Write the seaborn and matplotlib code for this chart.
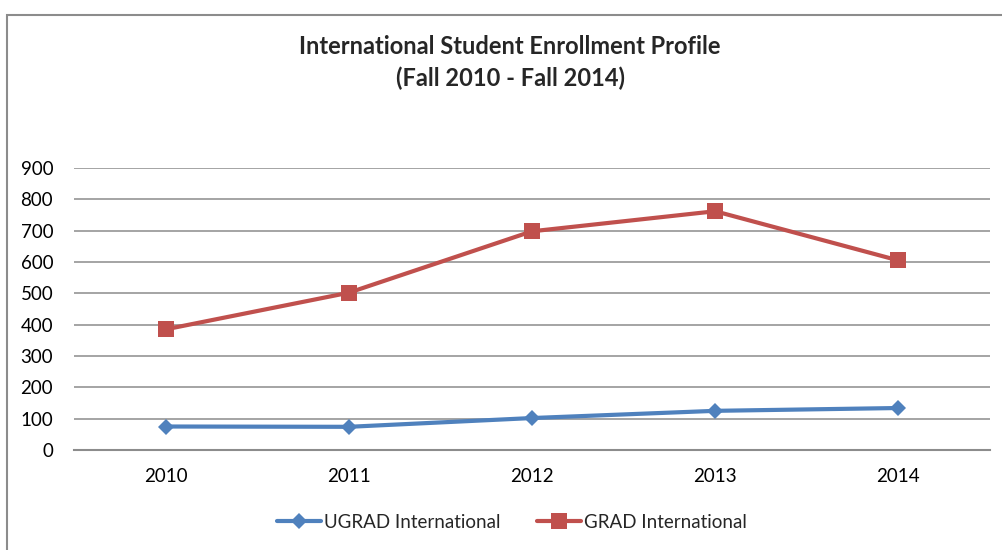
import matplotlib
matplotlib.use("Agg")
import matplotlib.pyplot as plt
import seaborn as sns
import pandas as pd
from matplotlib.patches import Rectangle

years = [2010, 2011, 2012, 2013, 2014]
ugrad = [75, 74, 102, 125, 134]
grad = [385, 502, 698, 762, 605]
series_names = ["UGRAD International", "GRAD International"]
yticks = [0, 100, 200, 300, 400, 500, 600, 700, 800, 900]

df = pd.DataFrame({
    "year": years * 2,
    "value": ugrad + grad,
    "series": [series_names[0]] * len(years) + [series_names[1]] * len(years),
})

sns.set_theme(style="white")
plt.rcParams["font.family"] = ["Lato", "DejaVu Sans"]

W, H = 1002, 550
fig = plt.figure(figsize=(W / 100, H / 100), dpi=100)
ax = fig.add_axes([74 / W, 1 - 450 / H, (990 - 74) / W, (450 - 168) / H])

palette = {series_names[0]: "#4F81BD", series_names[1]: "#C0504D"}
markers = {series_names[0]: "D", series_names[1]: "s"}
sizes = {series_names[0]: 8.5, series_names[1]: 11.5}
sns.lineplot(data=df, x="year", y="value", hue="series", style="series",
             markers=markers, dashes=False, palette=palette, ax=ax,
             linewidth=3, markeredgewidth=0, legend=False)
for line, name in zip(ax.get_lines(), series_names):
    line.set_markersize(sizes[name])

ax.set_xlim(years[0] - 0.5, years[-1] + 0.5)
ax.set_ylim(yticks[0], yticks[-1])
ax.set_xticks(years)
ax.set_xticklabels([str(y) for y in years])
ax.set_yticks(yticks)
ax.yaxis.grid(True, color="#8c8c8c", linewidth=1.1)
ax.set_axisbelow(True)
for s in ["top", "right", "left"]:
    ax.spines[s].set_visible(False)
ax.spines["bottom"].set_color("#8c8c8c")
ax.spines["bottom"].set_linewidth(1.5)
ax.tick_params(axis="both", length=0, labelsize=13.5, colors="black")
ax.tick_params(axis="x", pad=13)
ax.tick_params(axis="y", pad=15)
ax.set_xlabel("")
ax.set_ylabel("")

fig.text(510 / W, 1 - 47 / H, "International Student Enrollment Profile",
         ha="center", va="center", fontsize=17, fontweight="bold")
fig.text(510 / W, 1 - 78 / H, "(Fall 2010 - Fall 2014)",
         ha="center", va="center", fontsize=17, fontweight="bold")

handles = [plt.Line2D([], [], color=palette[n], marker=markers[n], linewidth=3,
                      markersize=sizes[n], markeredgewidth=0)
           for n in series_names]
fig.legend(handles, series_names, loc="center", bbox_to_anchor=(512 / W, 1 - 522 / H),
           ncol=2, frameon=False, fontsize=13.5, handlelength=2.35,
           columnspacing=1.9, handletextpad=0.2)

fig.patches.append(Rectangle((7 / W, -0.1), 1.2, (1 - 15 / H) + 0.1,
                             transform=fig.transFigure, fill=False,
                             edgecolor="#8c8c8c", linewidth=1.5))

fig.savefig("out.png", dpi=100, facecolor="white")
